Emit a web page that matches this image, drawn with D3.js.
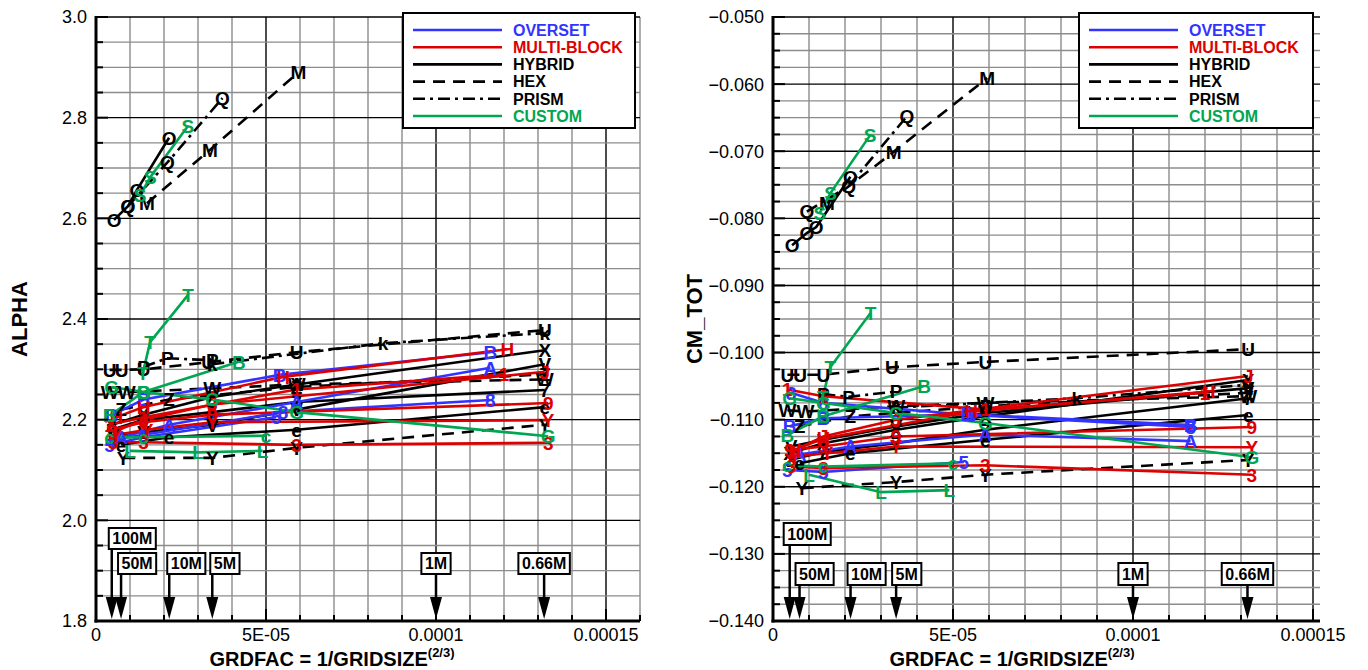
<!DOCTYPE html>
<html>
<head>
<meta charset="utf-8">
<title>ALPHA / CM_TOT vs GRDFAC</title>
<script src="https://cdn.jsdelivr.net/npm/d3@7"></script>
<style>
  body { margin: 0; background: #fff; }
  svg text { font-family: "Liberation Sans", Arial, sans-serif; }
</style>
</head>
<body>
<svg width="1368" height="670"></svg>
<script>
// legend groups
var groupNames  = ["OVERSET", "MULTI-BLOCK", "HYBRID", "HEX", "PRISM", "CUSTOM"];
var groupColors = ["#3333ff", "#dd0000", "#000000", "#000000", "#000000", "#00a651"];
var groupDash   = [null, null, null, "12,8", "12,5,3,5", null];
var drawOrder   = [3, 4, 2, 0, 1, 5];

// series: symbol, group index, grid factor, ALPHA, CM_TOT
var seriesSymbol = ["O","Q","M","S","T","U","P","k","X","H","B","A","J","Z","W","7","8","9","e","Y","G","3","Y","L","c","B","5","1","V"];
var seriesGroup  = [ 2,  4,  3,  5,  5,  3,  4,  4,  2,  1,  0,  0,  1,  3,  3,  2,  0,  1,  2,  1,  5,  1,  3,  5,  5,  5,  0,  1,  2];
var seriesX = [
  [5.3e-6, 9.4e-6, 1.2e-5, 2.15e-5],
  [9.4e-6, 2.1e-5, 3.72e-5],
  [1.5e-5, 3.35e-5, 5.95e-5],
  [1.3e-5, 1.6e-5, 2.7e-5],
  [1.38e-5, 1.59e-5, 2.71e-5],
  [4.0e-6, 7.5e-6, 1.4e-5, 3.3e-5, 5.9e-5, 1.32e-4],
  [1.4e-5, 2.1e-5, 3.42e-5],
  [3.42e-5, 8.44e-5, 1.32e-4],
  [4.6e-6, 1.4e-5, 3.42e-5, 5.9e-5, 1.32e-4],
  [6.0e-6, 1.4e-5, 5.5e-5, 1.21e-4],
  [4.6e-6, 1.4e-5, 5.4e-5, 1.16e-4],
  [7.4e-6, 2.15e-5, 5.9e-5, 1.16e-4],
  [5.0e-6, 1.4e-5, 3.42e-5, 1.32e-4],
  [7.4e-6, 2.15e-5, 5.9e-5, 1.32e-4],
  [4.0e-6, 9.0e-6, 3.42e-5, 5.9e-5, 1.32e-4],
  [4.6e-6, 1.4e-5, 3.42e-5, 5.9e-5, 1.32e-4],
  [5.0e-6, 1.4e-5, 5.5e-5, 1.16e-4],
  [4.6e-6, 1.4e-5, 3.42e-5, 1.33e-4],
  [7.4e-6, 2.15e-5, 5.9e-5, 1.32e-4],
  [6.0e-6, 1.5e-5, 3.42e-5, 1.33e-4],
  [4.6e-6, 1.4e-5, 3.42e-5, 5.9e-5, 1.33e-4],
  [5.0e-6, 1.4e-5, 5.9e-5, 1.33e-4],
  [8.0e-6, 3.42e-5, 5.9e-5, 1.32e-4],
  [1.0e-5, 3.0e-5, 4.9e-5],
  [4.0e-6, 1.4e-5, 5.0e-5],
  [4.0e-6, 1.4e-5, 4.2e-5],
  [4.0e-6, 1.4e-5, 5.3e-5],
  [4.0e-6, 1.4e-5, 5.9e-5, 1.2e-4],
  [5.0e-6, 1.4e-5, 3.42e-5, 5.9e-5, 1.32e-4]
];
var seriesAlpha = [
  [2.597, 2.624, 2.656, 2.760],
  [2.624, 2.711, 2.839],
  [2.630, 2.736, 2.890],
  [2.646, 2.682, 2.783],
  [2.293, 2.354, 2.448],
  [2.299, 2.299, 2.300, 2.314, 2.334, 2.378],
  [2.305, 2.322, 2.318],
  [2.310, 2.352, 2.372],
  [2.190, 2.210, 2.245, 2.270, 2.338],
  [2.205, 2.225, 2.285, 2.340],
  [2.209, 2.240, 2.289, 2.334],
  [2.165, 2.190, 2.235, 2.303],
  [2.175, 2.200, 2.230, 2.295],
  [2.220, 2.240, 2.265, 2.290],
  [2.255, 2.255, 2.262, 2.270, 2.280],
  [2.180, 2.200, 2.215, 2.235, 2.259],
  [2.160, 2.170, 2.215, 2.239],
  [2.180, 2.195, 2.210, 2.233],
  [2.150, 2.165, 2.180, 2.225],
  [2.170, 2.180, 2.195, 2.199],
  [2.265, 2.255, 2.240, 2.215, 2.167],
  [2.155, 2.155, 2.150, 2.154],
  [2.124, 2.124, 2.144, 2.190],
  [2.138, 2.135, 2.138],
  [2.165, 2.165, 2.168],
  [2.208, 2.255, 2.315],
  [2.150, 2.165, 2.205],
  [2.190, 2.205, 2.260, 2.290],
  [2.170, 2.175, 2.190, 2.220, 2.310]
];
var seriesCm = [
  [-0.0840, -0.0822, -0.0813, -0.0738],
  [-0.0790, -0.0752, -0.0648],
  [-0.0777, -0.0701, -0.0591],
  [-0.0792, -0.0762, -0.0676],
  [-0.1066, -0.1022, -0.0941],
  [-0.1033, -0.1033, -0.1033, -0.1022, -0.1014, -0.0995],
  [-0.1062, -0.1066, -0.1058],
  [-0.1082, -0.1068, -0.1048],
  [-0.1150, -0.1135, -0.1115, -0.1095, -0.1041],
  [-0.1145, -0.1128, -0.1088, -0.1058],
  [-0.1110, -0.1098, -0.1092, -0.1108],
  [-0.1152, -0.1140, -0.1122, -0.1132],
  [-0.1148, -0.1125, -0.1100, -0.1035],
  [-0.1110, -0.1095, -0.1080, -0.1060],
  [-0.1086, -0.1088, -0.1080, -0.1075, -0.1065],
  [-0.1160, -0.1148, -0.1135, -0.1115, -0.1068],
  [-0.1060, -0.1075, -0.1093, -0.1111],
  [-0.1145, -0.1140, -0.1125, -0.1111],
  [-0.1165, -0.1150, -0.1130, -0.1093],
  [-0.1155, -0.1150, -0.1140, -0.1141],
  [-0.1068, -0.1075, -0.1090, -0.1105, -0.1156],
  [-0.1170, -0.1172, -0.1168, -0.1182],
  [-0.1202, -0.1193, -0.1182, -0.1160],
  [-0.1182, -0.1208, -0.1205],
  [-0.1168, -0.1170, -0.1165],
  [-0.1123, -0.1095, -0.1050],
  [-0.1175, -0.1178, -0.1163],
  [-0.1055, -0.1065, -0.1085, -0.1060],
  [-0.1140, -0.1130, -0.1110, -0.1090, -0.1053]
];

// grid size markers
var gridLabels = ["100M", "50M", "10M", "5M", "1M", "0.66M"];
var gridFac    = [4.64e-6, 7.37e-6, 2.154e-5, 3.42e-5, 1.0e-4, 1.318e-4];
var gridRow    = [0, 1, 1, 1, 1, 1];

// x tick labels
var xTickVals   = [0, 5e-5, 1e-4, 1.5e-4];
var xTickLabels = ["0", "5E-05", "0.0001", "0.00015"];

var svg = d3.select("svg");

function steps(lo, hi, st) {
  var n = Math.round((hi - lo) / st);
  return d3.range(n + 1).map(function (i) { return lo + i * st; });
}

function drawChart(c, values) {
  var x = d3.scaleLinear().domain(c.xDomain).range([c.left, c.right]);
  var y = d3.scaleLinear().domain(c.yDomain).range([c.bottom, c.top]);
  var g = svg.append("g");

  var clipId = "clip" + c.id;
  svg.append("clipPath").attr("id", clipId)
    .append("rect")
    .attr("x", c.left).attr("y", c.top)
    .attr("width", c.right - c.left).attr("height", c.bottom - c.top);

  // grid
  var xGrid = steps(0, 1.5e-4, 1e-5);
  if (c.xDomain[1] > 1.55e-4) xGrid.push(1.6e-4);
  var yGrid = steps(c.yDomain[0], c.yDomain[1], c.yMinor);

  g.selectAll(".vg").data(xGrid).enter().append("line")
    .attr("x1", function (d) { return x(d); }).attr("x2", function (d) { return x(d); })
    .attr("y1", c.top).attr("y2", c.bottom)
    .attr("stroke", function (d, i) { return i % 5 == 0 ? "#000" : "#8c8c8c"; })
    .attr("stroke-width", 1.4);

  var majEvery = Math.round(c.yMajor / c.yMinor);
  g.selectAll(".hg").data(yGrid).enter().append("line")
    .attr("x1", c.left).attr("x2", c.right)
    .attr("y1", function (d) { return y(d); }).attr("y2", function (d) { return y(d); })
    .attr("stroke", function (d, i) { return i % majEvery == 0 ? "#000" : "#8c8c8c"; })
    .attr("stroke-width", 1.4);

  // series lines
  var line = d3.line()
    .x(function (d) { return x(d[0]); })
    .y(function (d) { return y(d[1]); });

  var idx = d3.range(seriesSymbol.length);
  idx.sort(function (a, b) {
    return drawOrder.indexOf(seriesGroup[a]) - drawOrder.indexOf(seriesGroup[b]);
  });

  var sg = g.append("g").attr("clip-path", "url(#" + clipId + ")");
  idx.forEach(function (k) {
    var pts = seriesX[k].map(function (v, j) { return [v, values[k][j]]; });
    var gi = seriesGroup[k];
    sg.append("path")
      .attr("d", line(pts))
      .attr("fill", "none")
      .attr("stroke", groupColors[gi])
      .attr("stroke-width", 2.6)
      .attr("stroke-dasharray", groupDash[gi]);
  });
  idx.forEach(function (k) {
    var gi = seriesGroup[k];
    sg.selectAll(null)
      .data(seriesX[k].map(function (v, j) { return [v, values[k][j]]; }))
      .enter().append("text")
      .attr("x", function (d) { return x(d[0]); })
      .attr("y", function (d) { return y(d[1]); })
      .attr("dy", "0.36em")
      .attr("text-anchor", "middle")
      .attr("font-size", 19)
      .attr("font-weight", "bold")
      .attr("fill", groupColors[gi])
      .text(seriesSymbol[k]);
  });

  // axes
  g.append("line").attr("x1", c.left).attr("x2", c.left)
    .attr("y1", c.top - 1).attr("y2", c.bottom + 1.5)
    .attr("stroke", "#000").attr("stroke-width", 3);
  g.append("line").attr("x1", c.left - 1.5).attr("x2", c.right)
    .attr("y1", c.bottom).attr("y2", c.bottom)
    .attr("stroke", "#000").attr("stroke-width", 3);

  g.selectAll(".yt").data(yGrid).enter().append("line")
    .attr("x1", c.left)
    .attr("x2", function (d, i) { return c.left + (i % majEvery == 0 ? 12 : 7); })
    .attr("y1", function (d) { return y(d); }).attr("y2", function (d) { return y(d); })
    .attr("stroke", "#000").attr("stroke-width", 2);
  g.selectAll(".xt").data(xGrid).enter().append("line")
    .attr("x1", function (d) { return x(d); }).attr("x2", function (d) { return x(d); })
    .attr("y1", c.bottom)
    .attr("y2", function (d, i) { return c.bottom - (i % 5 == 0 ? 12 : 6); })
    .attr("stroke", "#000").attr("stroke-width", 2);

  // tick labels
  var yLab = steps(c.yDomain[0], c.yDomain[1], c.yMajor);
  g.selectAll(".yl").data(yLab).enter().append("text")
    .attr("x", c.left - 9).attr("y", function (d) { return y(d); })
    .attr("dy", "0.36em").attr("text-anchor", "end")
    .attr("font-size", 18)
    .text(function (d) { return d3.format(c.fmt)(d); });
  g.selectAll(".xl").data(xTickVals).enter().append("text")
    .attr("x", function (d) { return x(d); }).attr("y", c.bottom + 20)
    .attr("text-anchor", "middle").attr("font-size", 18)
    .text(function (d, i) { return xTickLabels[i]; });

  // titles
  g.append("text")
    .attr("transform", "translate(" + c.yTitleX + "," + ((c.top + c.bottom) / 2) + ") rotate(-90)")
    .attr("text-anchor", "middle").attr("font-size", 22).attr("font-weight", "bold")
    .text(c.yTitle);
  var xt = g.append("text")
    .attr("x", c.xTitleX).attr("y", 666)
    .attr("text-anchor", "middle").attr("font-size", 20).attr("font-weight", "bold");
  xt.append("tspan").text("GRDFAC = 1/GRIDSIZE");
  xt.append("tspan").attr("dy", -9).attr("font-size", 13).text("(2/3)");

  // grid size markers
  gridLabels.forEach(function (lab, i) {
    var ax = x(gridFac[i]);
    var top = c.markRows[gridRow[i]];
    var t = g.append("text").attr("font-size", 16).attr("font-weight", "bold")
      .attr("y", top + c.markH / 2).attr("dy", "0.36em").text(lab);
    var w = t.node().getComputedTextLength() + 7;
    var bx = i < 4 ? ax - c.markOff[i] : ax - w / 2;
    t.attr("x", bx + 3.5);
    g.insert("rect", function () { return t.node(); })
      .attr("x", bx).attr("y", top).attr("width", w).attr("height", c.markH)
      .attr("fill", "#fff").attr("stroke", "#000").attr("stroke-width", 2);
    g.append("line").attr("x1", ax).attr("x2", ax)
      .attr("y1", top + c.markH).attr("y2", c.bottom - 20)
      .attr("stroke", "#000").attr("stroke-width", 2.5);
    g.append("path")
      .attr("d", "M" + (ax - 6) + "," + (c.bottom - 24) + "L" + (ax + 6) + "," + (c.bottom - 24) + "L" + ax + "," + (c.bottom - 2) + "Z")
      .attr("fill", "#000");
  });

  // legend
  var lg = g.append("g").attr("transform", "translate(" + c.legendX + ",13)");
  lg.append("rect").attr("width", c.legendW).attr("height", 115)
    .attr("fill", "#fff").attr("stroke", "#000").attr("stroke-width", 2);
  groupNames.forEach(function (nm, i) {
    var ly = 17 + i * 17.2;
    lg.append("line").attr("x1", 10).attr("x2", 99).attr("y1", ly).attr("y2", ly)
      .attr("stroke", groupColors[i]).attr("stroke-width", 2.6)
      .attr("stroke-dasharray", groupDash[i]);
    lg.append("text").attr("x", 110).attr("y", ly).attr("dy", "0.36em")
      .attr("font-size", 16).attr("font-weight", "bold")
      .attr("fill", groupColors[i]).text(nm);
  });
}

drawChart({
  id: "a", left: 96, right: 640, top: 17, bottom: 621,
  xDomain: [0, 1.6e-4], yDomain: [1.8, 3.0], yMajor: 0.2, yMinor: 0.05,
  fmt: ".1f", yTitle: "ALPHA", yTitleX: 27, xTitleX: 332, legendX: 403, legendW: 232,
  markRows: [528, 553], markH: 21, markOff: [3, 3, 2, 2]
}, seriesAlpha);

drawChart({
  id: "c", left: 773, right: 1320, top: 17, bottom: 621,
  xDomain: [0, (1320 - 773) / 3.6e6], yDomain: [-0.14, -0.05], yMajor: 0.01, yMinor: 0.0025,
  fmt: ".3f", yTitle: "CM_TOT", yTitleX: 702, xTitleX: 1012, legendX: 1079, legendW: 234,
  markRows: [523, 563], markH: 22, markOff: [6, 4, 3, 4]
}, seriesCm);
</script>
</body>
</html>
